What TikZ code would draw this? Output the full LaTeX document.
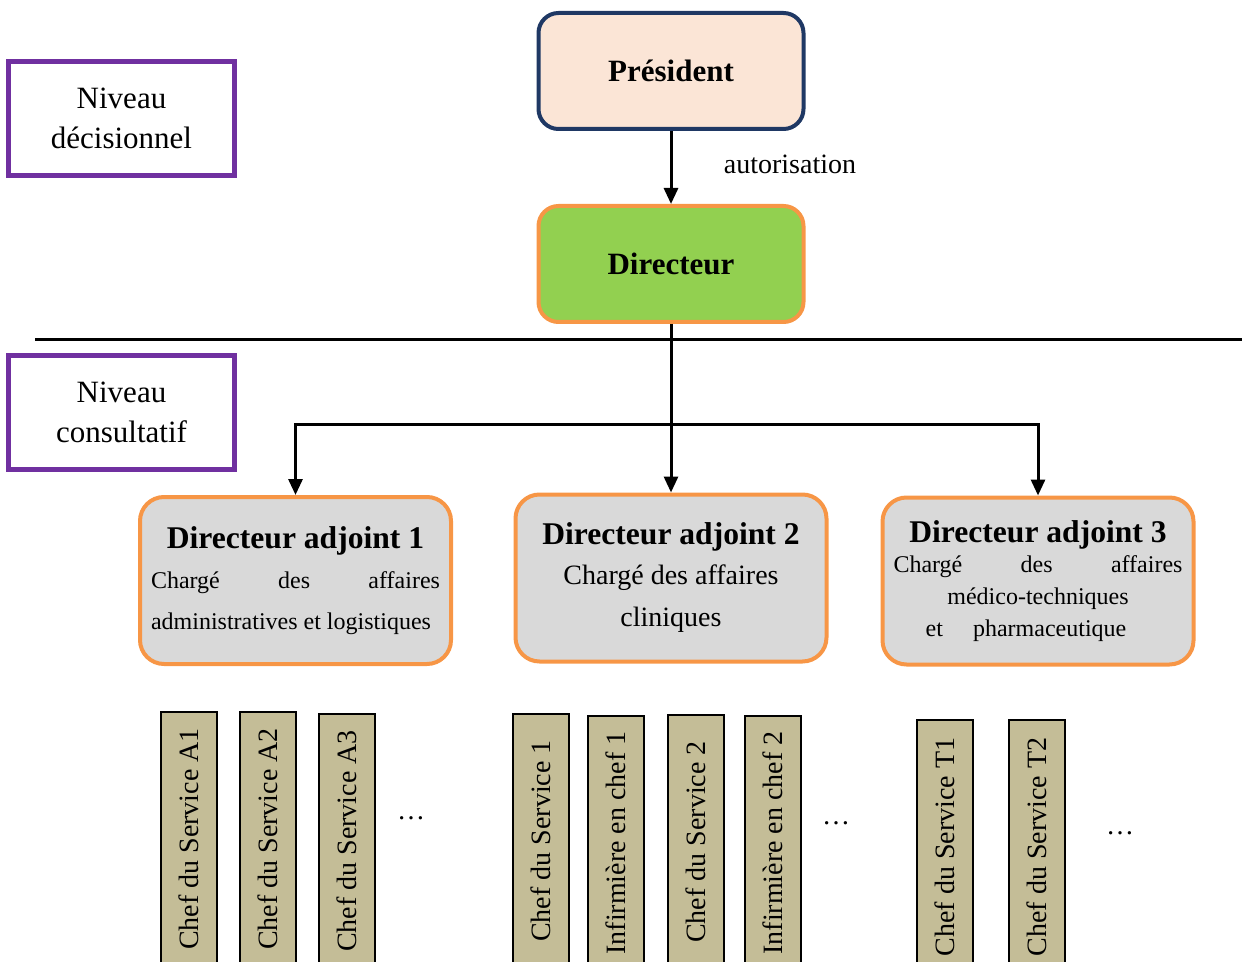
\documentclass[tikz,border=0pt]{standalone}
\usepackage{fontspec}
\setmainfont{Liberation Serif}
\usetikzlibrary{arrows.meta}
\definecolor{violetniv}{HTML}{7030A0}
\definecolor{bleupres}{HTML}{1F3864}
\definecolor{rosepres}{HTML}{FBE5D6}
\definecolor{vertdir}{HTML}{92D050}
\definecolor{orangebord}{HTML}{F79646}
\definecolor{grisadj}{HTML}{D9D9D9}
\definecolor{beigechef}{HTML}{C4BD97}
\newcommand{\titreadj}[1]{{\fontsize{15.8}{20}\selectfont\bfseries #1}}
\begin{document}
\begin{tikzpicture}[x=0.5pt,y=-0.5pt,
		niveau/.style={draw=violetniv,line width=2.5pt,minimum width=113pt,minimum height=57pt,align=center,font=\fontsize{15.5}{20}\selectfont},
		chef/.style={draw,line width=1pt,fill=beigechef,rotate=90,minimum width=127pt,minimum height=28pt,inner sep=0pt,font=\fontsize{14}{16}\selectfont},
		adjoint/.style={draw=orangebord,line width=2pt,fill=grisadj,rounded corners=12pt,minimum width=155.5pt,minimum height=83.5pt,align=center},
		titre/.style={line width=2pt,rounded corners=10pt,minimum width=132.5pt,minimum height=58pt,font=\fontsize{15.5}{18}\selectfont\bfseries},
		fleche/.style={line width=1.5pt,-{Triangle[width=7pt,length=8pt]}}]
		\useasboundingbox (0,0) rectangle (1242,962);
		% niveaux
		\node[niveau] (decision) at (121.5,118.5) {Niveau\\décisionnel};
		\node[niveau] (consult) at (121.5,412.5) {Niveau\\consultatif};
		\coordinate (sepG) at (35,340);
		\coordinate (sepD) at (1242,340);
		\draw[line width=1.5pt] (sepG) -- (sepD);
		% direction
		\node[titre,draw=bleupres,fill=rosepres] (pres) at (671,71) {Président};
		\node[titre,draw=orangebord,fill=vertdir] (dir) at (671,264) {Directeur};
		\draw[fleche] (pres) -- (dir);
		\node[font=\fontsize{14}{16}\selectfont] (autor) at (790,164) {autorisation};
		% directeurs adjoints
		\node[adjoint,font=\fontsize{12}{14}\selectfont] (adj1) at (295.5,580.5) {\titreadj{Directeur adjoint 1}\\[6pt]
			\makebox[144.5pt][s]{Chargé des affaires}\\[6.5pt]
			\makebox[144.5pt][l]{administratives et logistiques}};
		\node[adjoint,font=\fontsize{14}{16}\selectfont] (adj2) at (671,578) {\titreadj{Directeur adjoint 2}\\[4pt]
			Chargé des affaires\\[5pt] cliniques};
		\node[adjoint,font=\fontsize{12}{14}\selectfont] (adj3) at (1038,581) {\titreadj{Directeur adjoint 3}\\[1pt]
			\makebox[144.5pt][s]{Chargé des affaires}\\[2pt]
			médico-techniques\hspace*{6pt}\\[2pt] et\quad\ pharmaceutique\hspace*{12pt}};
		\coordinate (bar) at (671,425);
		\draw[fleche] (dir) -- (adj2);
		\draw[fleche] (bar) -| (adj1.north);
		\draw[fleche] (bar) -| (adj3.north);
		% chefs de service
		\node[chef] (a1) at (188.5,839) {Chef du Service A1};
		\node[chef] (a2) at (268,839) {Chef du Service A2};
		\node[chef] (a3) at (347,841) {Chef du Service A3};
		\node[font=\fontsize{14}{16}\selectfont] (pointsA) at (411,818) {\dots};
		\node[chef] (s1) at (540.5,841) {Chef du Service 1};
		\node[chef] (i1) at (616,843) {Infirmière en chef 1};
		\node[chef] (s2) at (695.5,842) {Chef du Service 2};
		\node[chef] (i2) at (772.5,843) {Infirmière en chef 2};
		\node[font=\fontsize{14}{16}\selectfont] (pointsC) at (836,823) {\dots};
		\node[chef] (t1) at (945,847) {Chef du Service T1};
		\node[chef] (t2) at (1037,847) {Chef du Service T2};
		\node[font=\fontsize{14}{16}\selectfont] (pointsT) at (1120,833) {\dots};
\end{tikzpicture}
\end{document}
